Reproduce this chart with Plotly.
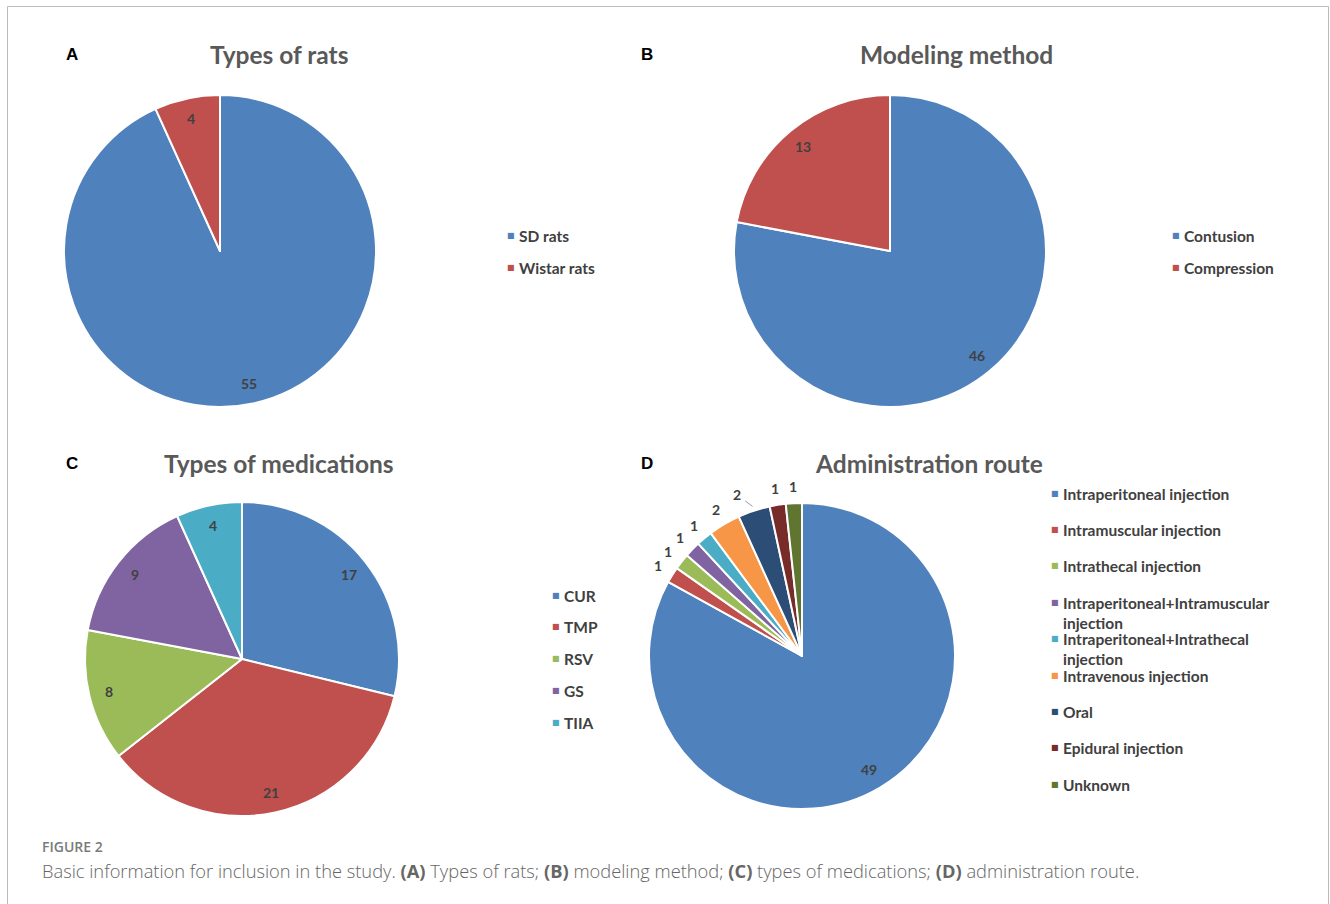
import math
import plotly.graph_objects as go

W, H = 1330, 904

# ---- data -------------------------------------------------------------
rat_labels = ["SD rats", "Wistar rats"]
rat_values = [55, 4]

model_labels = ["Contusion", "Compression"]
model_values = [46, 13]

med_labels = ["CUR", "TMP", "RSV", "GS", "TIIA"]
med_values = [17, 21, 8, 9, 4]

route_labels = [
    "Intraperitoneal injection",
    "Intramuscular injection",
    "Intrathecal injection",
    "Intraperitoneal+Intramuscular<br>injection",
    "Intraperitoneal+Intrathecal<br>injection",
    "Intravenous injection",
    "Oral",
    "Epidural injection",
    "Unknown",
]
route_values = [49, 1, 1, 1, 1, 2, 2, 1, 1]

# ---- styling ----------------------------------------------------------
PALETTE = ["#4F81BD", "#C0504D", "#9BBB59", "#8064A2", "#4BACC6",
           "#F79646", "#2C4D75", "#772C2A", "#5F7530"]
GREY_TXT = "#404040"
TITLE_TXT = "#595959"
LBL_FONT = "Lato"


def px(x):
    return x / W


def py(y):
    return 1 - y / H


panels = [
    dict(letter="A", title="Types of rats", labels=rat_labels, values=rat_values,
         c=(220, 251), r=156, tpos=(279, 55), lpos=(72, 54),
         leg=(511, 235, 32), mode="inside"),
    dict(letter="B", title="Modeling method", labels=model_labels, values=model_values,
         c=(890, 251), r=156, tpos=(956, 55), lpos=(647, 54),
         leg=(1176, 235, 32), mode="inside"),
    dict(letter="C", title="Types of medications", labels=med_labels, values=med_values,
         c=(242, 659), r=157, tpos=(279, 463), lpos=(72, 463),
         leg=(556, 595, 31.8), mode="inside"),
    dict(letter="D", title="Administration route", labels=route_labels, values=route_values,
         c=(802, 656), r=153, tpos=(929, 463), lpos=(647, 463),
         leg=(1055, 493, 36.4), mode="outside"),
]

fig = go.Figure()
annotations = []

for p in panels:
    cx, cy = p["c"]
    r = p["r"]
    n = len(p["values"])
    fig.add_trace(go.Pie(
        labels=p["labels"], values=p["values"], sort=False,
        direction="clockwise", rotation=0,
        marker=dict(colors=PALETTE[:n], line=dict(color="white", width=2)),
        textinfo="none", showlegend=False,
        domain=dict(x=[px(cx - r), px(cx + r)], y=[py(cy + r), py(cy - r)]),
    ))

    # value labels placed along each slice's bisector
    total = sum(p["values"])
    cum = 0
    for i, v in enumerate(p["values"]):
        mid = math.radians(90 - 360 * (cum + v / 2) / total)
        cum += v
        font = dict(family=LBL_FONT, size=14, color=GREY_TXT, weight="bold")
        if p["mode"] == "inside" or i == 0:
            k = 0.87 if p["mode"] == "inside" else 0.86
            annotations.append(dict(
                x=px(cx + k * r * math.cos(mid)), y=py(cy - k * r * math.sin(mid)),
                xref="paper", yref="paper", text=str(v), showarrow=False,
                font=font, xanchor="center", yanchor="middle"))
        elif p["labels"][i] == "Oral":
            # label with a short leader line back to the slice
            k = 1.03
            annotations.append(dict(
                x=px(cx + k * r * math.cos(mid)), y=py(cy - k * r * math.sin(mid)),
                xref="paper", yref="paper", text=str(v), showarrow=True,
                arrowhead=0, arrowwidth=1, arrowcolor="#9a9a9a",
                ax=-16, ay=-12, standoff=0, startstandoff=4,
                font=font))
        else:
            k = 1.11
            annotations.append(dict(
                x=px(cx + k * r * math.cos(mid)), y=py(cy - k * r * math.sin(mid)),
                xref="paper", yref="paper", text=str(v), showarrow=False,
                font=font, xanchor="center", yanchor="middle"))

    # legend: coloured square + label
    lx, ly, step = p["leg"]
    for i, lab in enumerate(p["labels"]):
        yy = ly + i * step
        annotations.append(dict(
            x=px(lx), y=py(yy), xref="paper", yref="paper", text="■",
            showarrow=False, xanchor="center", yanchor="middle",
            font=dict(family="DejaVu Sans", size=8, color=PALETTE[i])))
        annotations.append(dict(
            x=px(lx + 6), y=py(yy - 10.5), xref="paper", yref="paper", text=lab,
            showarrow=False, xanchor="left", yanchor="top", align="left",
            font=dict(family=LBL_FONT, size=15.5, color=GREY_TXT, weight="bold")))

    # panel title and letter
    tx, ty = p["tpos"]
    annotations.append(dict(
        x=px(tx), y=py(ty), xref="paper", yref="paper", text=p["title"],
        showarrow=False, xanchor="center", yanchor="middle",
        font=dict(family=LBL_FONT, size=24.5, color=TITLE_TXT, weight="bold")))
    lxx, lyy = p["lpos"]
    annotations.append(dict(
        x=px(lxx), y=py(lyy), xref="paper", yref="paper", text=p["letter"],
        showarrow=False, xanchor="center", yanchor="middle",
        font=dict(family="Liberation Sans", size=17, color="black", weight="bold")))

# figure caption
annotations.append(dict(
    x=px(40), y=py(846), xref="paper", yref="paper", text="FIGURE 2",
    showarrow=False, xanchor="left", yanchor="middle",
    font=dict(family="Open Sans", size=14, color="#7a7a7a", weight=600)))
annotations.append(dict(
    x=px(40), y=py(870), xref="paper", yref="paper",
    text=("Basic information for inclusion in the study. <b>(A)</b> Types of rats; "
          "<b>(B)</b> modeling method; <b>(C)</b> types of medications; "
          "<b>(D)</b> administration route."),
    showarrow=False, xanchor="left", yanchor="middle",
    font=dict(family="Open Sans", size=18.3, color="#666666", weight=300)))

fig.update_layout(
    width=W, height=H,
    margin=dict(l=0, r=0, t=0, b=0),
    paper_bgcolor="white", plot_bgcolor="white",
    annotations=annotations,
    shapes=[dict(type="rect", xref="paper", yref="paper",
                 x0=px(7.5), x1=px(1328.5), y0=-0.02, y1=py(6.5),
                 line=dict(color="#bbbbbb", width=1))],
)

fig.write_html("out.html")
